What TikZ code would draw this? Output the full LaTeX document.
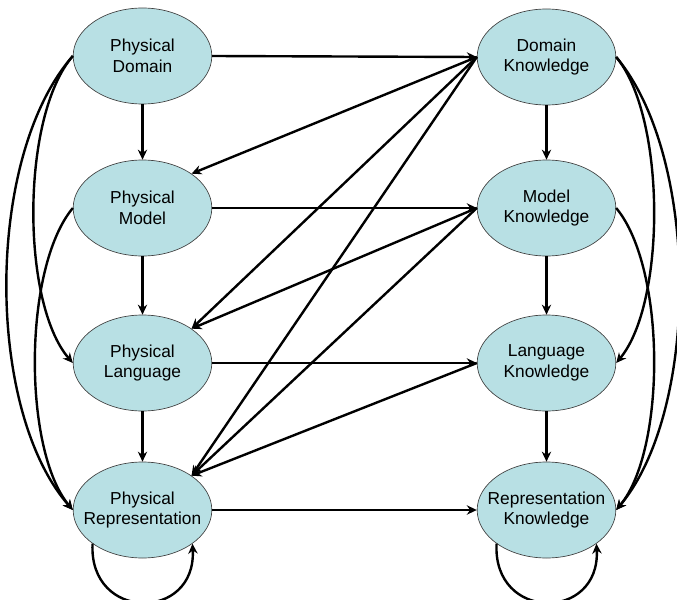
\documentclass[tikz,border=0pt]{standalone}
\usepackage{fontspec}
\setmainfont{Liberation Sans}
\usetikzlibrary{shapes.geometric,arrows.meta}
\definecolor{cellfill}{RGB}{184,224,228}
\tikzset{
  box/.style={ellipse, draw=black!75, line width=0.5pt, fill=cellfill, align=center,
    inner sep=0pt, minimum width=104pt, minimum height=72pt,
    font=\fontsize{13}{15.5}\selectfont},
  link/.style={-{Stealth[length=7.5pt,width=7pt]}, line width=1.8pt},
}
\begin{document}
\begin{tikzpicture}[x=0.75pt,y=-0.75pt]
\useasboundingbox (0,0) rectangle (677,599);
% physical side
\node[box] (pd) at (142.5,56) {Physical\\Domain};
\node[box] (pm) at (142.5,208) {Physical\\Model};
\node[box] (pl) at (142.5,363) {Physical\\Language};
\node[box] (pr) at (142.5,510) {Physical\\\makebox[0pt]{Representation}};
% knowledge side
\node[box] (dk) at (546.5,57) {Domain\\Knowledge};
\node[box] (mk) at (546.5,208) {Model\\Knowledge};
\node[box] (lk) at (546.5,363) {Language\\Knowledge};
\node[box] (rk) at (546.5,510) {\makebox[0pt]{Representation}\\Knowledge};
% columns
\draw[link] (pd) -- (pm);
\draw[link] (pm) -- (pl);
\draw[link] (pl) -- (pr);
\draw[link] (dk) -- (mk);
\draw[link] (mk) -- (lk);
\draw[link] (lk) -- (rk);
% rows
\draw[link] (pd.east) -- (dk.west);
\draw[link] (pm.east) -- (mk.west);
\draw[link] (pl.east) -- (lk.west);
\draw[link] (pr.east) -- (rk.west);
% knowledge back to physical
\draw[link] (dk.west) -- (pm.35);
\draw[link] (dk.west) -- (pl.35);
\draw[link] (dk.west) -- (pr.35);
\draw[link] (mk.west) -- (pl.35);
\draw[link] (mk.west) -- (pr.35);
\draw[link] (lk.west) -- (pr.35);
% outer curves
\draw[link] (pd.west) .. controls +(-52,60) and +(-52,-60) .. (pl.west);
\draw[link] (pd.west) .. controls +(-88,100) and +(-88,-100) .. (pr.west);
\draw[link] (pm.west) .. controls +(-50,60) and +(-50,-60) .. (pr.west);
\draw[link] (dk.east) .. controls +(50,60) and +(50,-60) .. (lk.east);
\draw[link] (dk.east) .. controls +(84,100) and +(84,-100) .. (rk.east);
\draw[link] (mk.east) .. controls +(50,60) and +(50,-60) .. (rk.east);
% self loops
\draw[link] (pr.214) .. controls +(-4,78) and +(4,78) .. (pr.326);
\draw[link] (rk.214) .. controls +(-4,78) and +(4,78) .. (rk.326);
\end{tikzpicture}
\end{document}
